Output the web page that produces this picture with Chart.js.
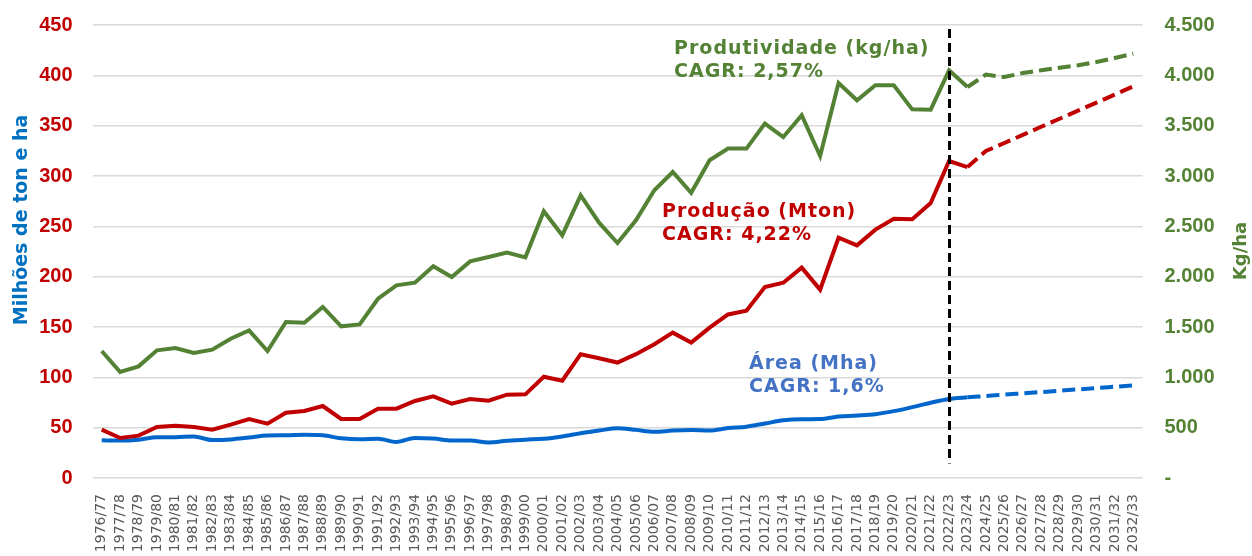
<!DOCTYPE html>
<html>
<head>
<meta charset="utf-8">
<script src="https://cdn.jsdelivr.net/npm/chart.js@4.4.1/dist/chart.umd.min.js"></script>
<style>
  html, body { margin: 0; padding: 0; background: #fff; }
  #wrap { width: 1252px; height: 556px; position: relative; }
</style>
</head>
<body>
<div id="wrap"><canvas id="chart"></canvas></div>
<script>
const categories = [
    '1976/77', '1977/78', '1978/79', '1979/80', '1980/81', '1981/82', '1982/83', '1983/84',
    '1984/85', '1985/86', '1986/87', '1987/88', '1988/89', '1989/90', '1990/91', '1991/92',
    '1992/93', '1993/94', '1994/95', '1995/96', '1996/97', '1997/98', '1998/99', '1999/00',
    '2000/01', '2001/02', '2002/03', '2003/04', '2004/05', '2005/06', '2006/07', '2007/08',
    '2008/09', '2009/10', '2010/11', '2011/12', '2012/13', '2013/14', '2014/15', '2015/16',
    '2016/17', '2017/18', '2018/19', '2019/20', '2020/21', '2021/22', '2022/23', '2023/24',
    '2024/25', '2025/26', '2026/27', '2027/28', '2028/29', '2029/30', '2030/31', '2031/32',
    '2032/33'
];

// Milhões de ha
const areaMha = [
    37.4, 37.2, 38.1, 40.5, 40.6, 41.2, 37.7, 38.3, 40.2, 42.3, 42.4, 42.9, 42.4, 39.5, 38.4, 39.0,
    35.8, 39.8, 39.2, 37.3, 37.2, 35.3, 36.9, 38.1, 38.9, 41.2, 44.5, 47.1, 49.5, 47.8, 45.9, 47.1,
    47.6, 47.1, 49.6, 51.0, 54.1, 57.3, 58.4, 58.6, 61.0, 62.0, 63.4, 66.4, 70.4, 74.8, 78.5, 80.1,
    81.4, 82.8, 84.1, 85.4, 86.7, 88.0, 89.4, 90.7, 92.0
];

// Milhões de toneladas
const producaoMton = [
    48.0, 39.7, 42.1, 50.7, 52.0, 50.7, 48.0, 53.0, 58.6, 54.0, 64.9, 66.6, 71.5, 58.6, 58.6, 68.9,
    68.9, 76.5, 81.1, 73.8, 78.5, 76.8, 82.8, 83.1, 100.6, 96.6, 123.0, 119.0, 114.7, 123.0, 132.9, 144.4,
    134.5, 149.4, 162.5, 166.2, 189.7, 194.0, 209.0, 187.1, 238.7, 231.1, 246.7, 257.6, 257.0, 273.2, 314.9, 308.9,
    324.8, 332.8, 340.8, 348.9, 356.9, 364.9, 372.9, 380.9, 389.0
];

// kg/ha
const produtividadeKgHa = [
    1262, 1053, 1109, 1268, 1291, 1242, 1275, 1384, 1467, 1262, 1550, 1543, 1699, 1507, 1526, 1781,
    1914, 1940, 2103, 1997, 2152, 2195, 2240, 2192, 2649, 2411, 2808, 2536, 2334, 2560, 2858, 3040,
    2834, 3156, 3272, 3272, 3520, 3387, 3603, 3199, 3924, 3752, 3901, 3901, 3662, 3659, 4050, 3884,
    4007, 3983, 4023, 4050, 4076, 4100, 4132, 4172, 4215
];

const leftTicks = [0, 50, 100, 150, 200, 250, 300, 350, 400, 450];
const rightTicks = [0, 500, 1000, 1500, 2000, 2500, 3000, 3500, 4000, 4500];

const firstProjection = 47;   // 2023/24 onwards is dashed
const dividerIndex = 46;      // 2022/23

const RED = '#C00000';
const GREEN = '#548235';
const BLUE = '#0066CC';

function fmtThousands(v) {
    if (v === 0) return '-';
    return String(v).replace(/\B(?=(\d{3})+(?!\d))/g, '.');
}

const dashAfter = (pattern) => ({
    borderDash: ctx => ctx.p0DataIndex >= firstProjection ? pattern : undefined
});

// annotations: text lines anchored on category index / left-axis value
const notes = [
    { lines: ['Produtividade (kg/ha)', 'CAGR: 2,57%'], color: GREEN, idx: 31.07, val: 421.3 },
    { lines: ['Produção (Mton)', 'CAGR: 4,22%'], color: RED, idx: 30.42, val: 259.6 },
    { lines: ['Área (Mha)', 'CAGR: 1,6%'], color: '#4472C4', idx: 35.14, val: 108.6 }
];

const extras = {
    id: 'extras',
    afterDatasetsDraw(chart) {
        const c = chart.ctx;
        const x = chart.scales.x;
        const y = chart.scales.y;

        // projection divider
        const vx = Math.round(x.getPixelForValue(dividerIndex)) + 0.5;
        c.save();
        c.strokeStyle = '#000';
        c.lineWidth = 3;
        c.setLineDash([9, 5]);
        c.beginPath();
        c.moveTo(vx, y.getPixelForValue(446));
        c.lineTo(vx, y.getPixelForValue(14.5));
        c.stroke();
        c.restore();

        // series labels
        c.save();
        c.font = 'bold 19px "DejaVu Sans", Verdana, sans-serif';
        c.letterSpacing = '1px';
        c.textAlign = 'left';
        c.textBaseline = 'alphabetic';
        notes.forEach(n => {
            c.fillStyle = n.color;
            const px = x.getPixelForValue(n.idx);
            const py = y.getPixelForValue(n.val);
            n.lines.forEach((line, i) => c.fillText(line, px, py + i * 23.5));
        });
        c.restore();

        // axis titles
        c.save();
        c.font = 'bold 19px "DejaVu Sans", Verdana, sans-serif';
        c.textAlign = 'center';
        c.textBaseline = 'middle';
        c.fillStyle = '#0070C0';
        c.translate(22, 220);
        c.rotate(-Math.PI / 2);
        c.fillText('Milhões de ton e ha', 0, 0);
        c.restore();

        c.save();
        c.font = 'bold 18px "DejaVu Sans", Verdana, sans-serif';
        c.textAlign = 'center';
        c.textBaseline = 'middle';
        c.fillStyle = GREEN;
        c.translate(1241, 251);
        c.rotate(-Math.PI / 2);
        c.fillText('Kg/ha', 0, 0);
        c.restore();
    }
};

new Chart(document.getElementById('chart'), {
    type: 'line',
    data: {
        labels: categories,
        datasets: [
            {
                label: 'Produtividade (kg/ha)',
                data: produtividadeKgHa,
                yAxisID: 'y2',
                borderColor: GREEN,
                borderWidth: 4,
                pointRadius: 0,
                tension: 0,
                segment: dashAfter([13, 6])
            },
            {
                label: 'Produção (Mton)',
                data: producaoMton,
                yAxisID: 'y',
                borderColor: RED,
                borderWidth: 4,
                pointRadius: 0,
                tension: 0,
                segment: dashAfter([13, 6])
            },
            {
                label: 'Área (Mha)',
                data: areaMha,
                yAxisID: 'y',
                borderColor: BLUE,
                borderWidth: 4,
                pointRadius: 0,
                cubicInterpolationMode: 'monotone',
                segment: dashAfter([13, 6])
            }
        ]
    },
    options: {
        responsive: true,
        maintainAspectRatio: false,
        animation: false,
        layout: { padding: { top: 25, left: 0, right: 0, bottom: 0 } },
        plugins: {
            legend: { display: false },
            tooltip: { enabled: false }
        },
        scales: {
            x: {
                offset: true,
                grid: { display: false, drawTicks: false },
                border: { display: false },
                ticks: {
                    autoSkip: false,
                    maxRotation: 90,
                    minRotation: 90,
                    padding: 16,
                    color: '#595959',
                    font: { family: "'DejaVu Sans', Verdana, sans-serif", size: 14 }
                },
                afterFit: s => { s.height = 78; s.paddingTop = 0; }
            },
            y: {
                position: 'left',
                min: 0,
                max: 450,
                afterBuildTicks: s => { s.ticks = leftTicks.map(v => ({ value: v })); },
                grid: { color: '#d9d9d9', lineWidth: 1.5, drawTicks: false },
                border: { display: false },
                ticks: {
                    padding: 20,
                    color: RED,
                    font: { family: "'Liberation Sans', Arial, sans-serif", size: 20, weight: 'bold' }
                },
                afterFit: s => { s.width = 92.5; s.paddingTop = 0; s.paddingBottom = 0; }
            },
            y2: {
                position: 'right',
                min: 0,
                max: 4500,
                afterBuildTicks: s => { s.ticks = rightTicks.map(v => ({ value: v })); },
                grid: { display: false, drawTicks: false },
                border: { display: false },
                ticks: {
                    padding: 22,
                    color: GREEN,
                    font: { family: "'Liberation Sans', Arial, sans-serif", size: 20, weight: 'bold' },
                    callback: v => fmtThousands(v)
                },
                afterFit: s => { s.width = 109.5; s.paddingTop = 0; s.paddingBottom = 0; }
            }
        }
    },
    plugins: [extras]
});
</script>
</body>
</html>
